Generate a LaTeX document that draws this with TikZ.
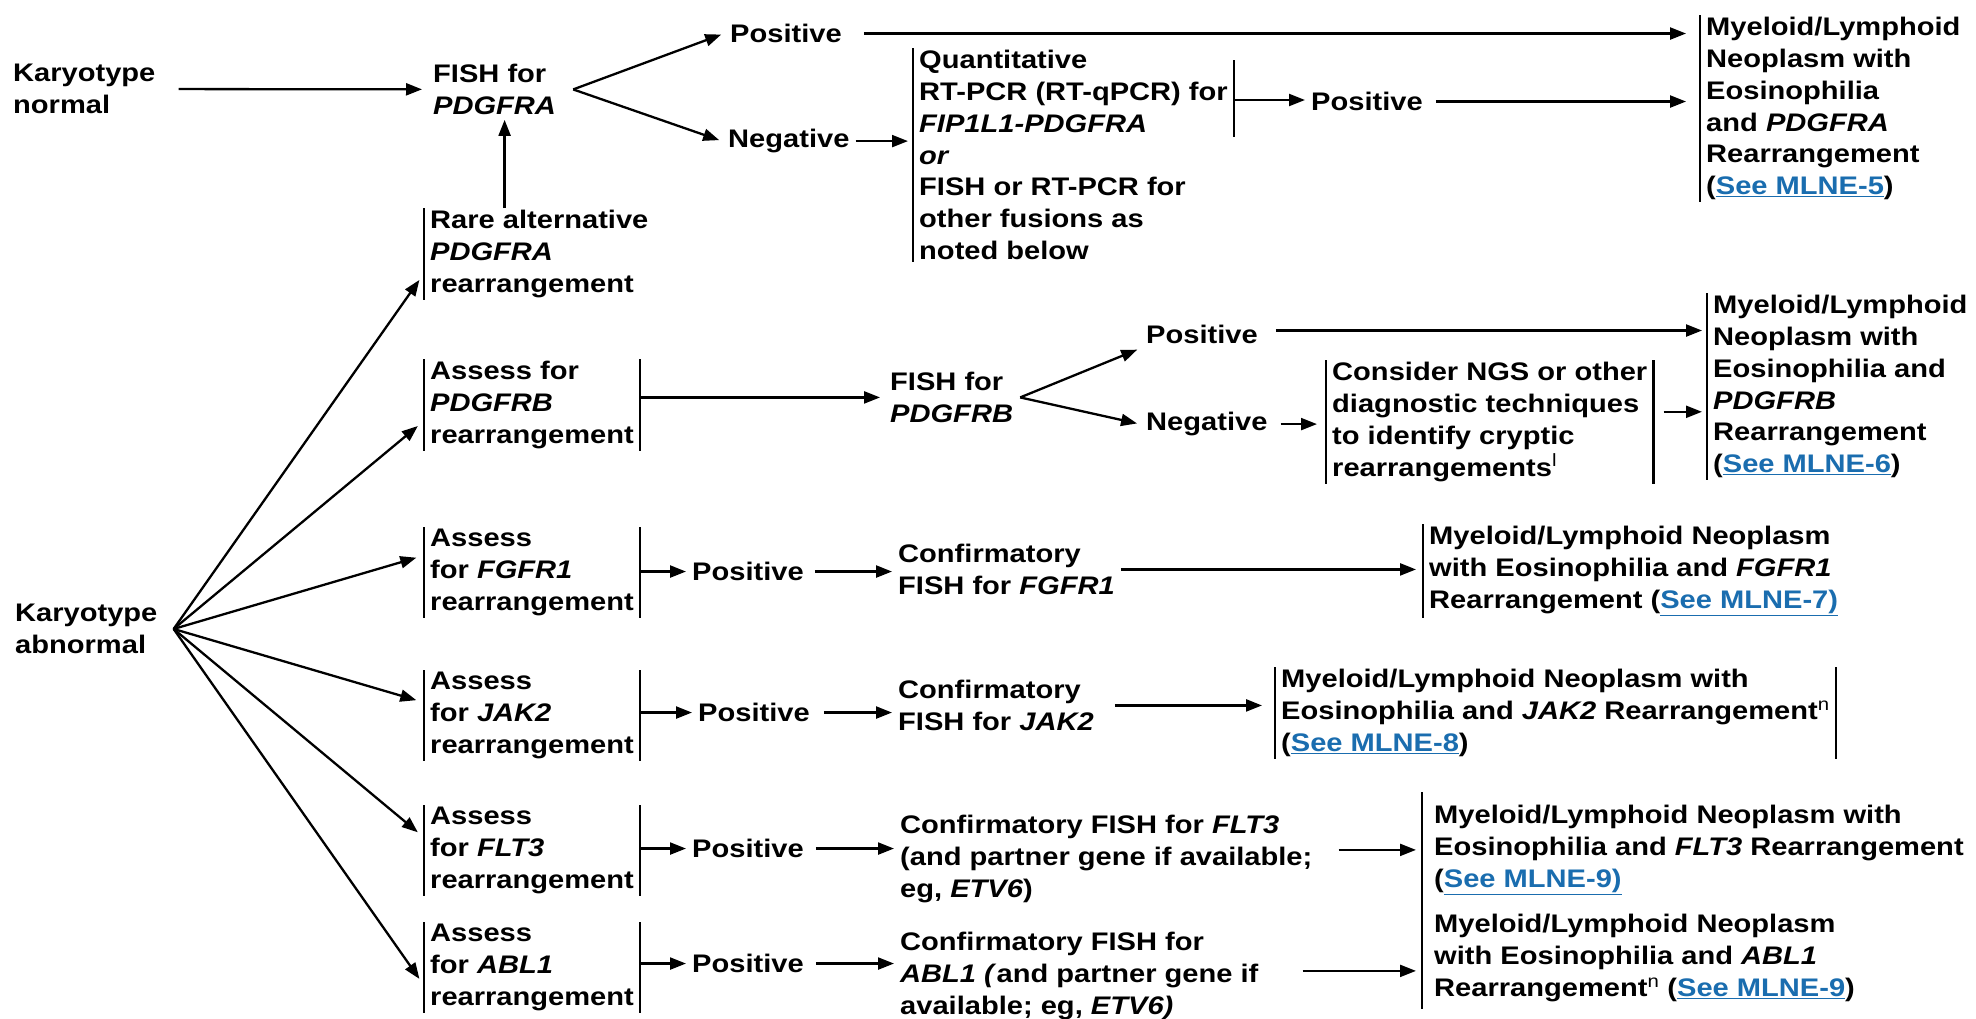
\documentclass[tikz,border=0pt]{standalone}
\usepackage{fontspec}
\setmainfont{Liberation Sans}[FakeStretch=1.145]
\usepackage{xcolor}
\usepackage{tikz}
\usetikzlibrary{arrows.meta, calc}
\definecolor{linkazul}{HTML}{1A6DAF}
\newcommand{\mlne}[1]{\textcolor{linkazul}{\underline{#1}}}

\begin{document}
\begin{tikzpicture}[x=1pt, y=-1pt,
    txt/.style={anchor=north west, align=left, inner xsep=6pt, inner ysep=2pt, font=\bfseries\fontsize{25.4}{31.8}\selectfont},
    res/.style={txt, inner xsep=12pt},
    seta/.style={draw, line width=2.3pt, -{Triangle[length=16pt, width=12pt]}},
    barra/.style={draw, line width=2.3pt, -}
]
    \path[use as bounding box, fill=white] (0,0) rectangle (1976,1018);

    \node[txt] (knorm) at (7, 62)    {Karyotype\\normal};
    \node[txt] (fishA) at (427, 62)  {FISH for\\\textit{PDGFRA}};
    \node[txt] (posA)  at (724, 22)  {Positive};
    \node[txt] (negA)  at (722, 127) {Negative};
    \node[txt] (qpcr)  at (913, 48)  {Quantitative\\RT-PCR (RT-qPCR) for\\\textit{FIP1L1-PDGFRA}\\\textit{or}\\FISH or RT-PCR for\\other fusions as\\noted below};
    \node[txt] (posA2) at (1305, 90) {Positive};
    \node[txt] (resA)  at (1700, 15) {Myeloid/Lymphoid\\Neoplasm with\\Eosinophilia\\and \textit{PDGFRA}\\Rearrangement\\(\mlne{See MLNE-5})};
    \node[txt] (rare)  at (424, 208) {Rare alternative\\\textit{PDGFRA}\\rearrangement};

    \node[txt] (kabn)  at (9, 602)   {Karyotype\\abnormal};

    \node[txt] (asB)   at (424, 359)  {Assess for\\\textit{PDGFRB}\\rearrangement};
    \node[txt] (fishB) at (884, 370)  {FISH for\\\textit{PDGFRB}};
    \node[txt] (posB)  at (1140, 323) {Positive};
    \node[txt] (negB)  at (1140, 410) {Negative};
    \node[txt] (ngs)   at (1326, 360) {Consider NGS or other\\diagnostic techniques\\to identify cryptic\\rearrangements\textsuperscript{\mdseries l}};
    \node[txt] (resB)  at (1707, 293) {Myeloid/Lymphoid\\Neoplasm with\\Eosinophilia and\\\textit{PDGFRB}\\Rearrangement\\(\mlne{See MLNE-6})};

    \node[txt] (asF)   at (424, 527)  {Assess\\for \textit{FGFR1}\\rearrangement};
    \node[txt] (posF)  at (686, 560)  {Positive};
    \node[txt] (confF) at (892, 542)  {Confirmatory\\FISH for \textit{FGFR1}};
    \node[txt] (resF)  at (1423, 524) {Myeloid/Lymphoid Neoplasm\\with Eosinophilia and \textit{FGFR1}\\Rearrangement (\mlne{See MLNE-7)}};

    \node[txt] (asJ)   at (424, 670)  {Assess\\for \textit{JAK2}\\rearrangement};
    \node[txt] (posJ)  at (692, 701)  {Positive};
    \node[txt] (confJ) at (892, 678)  {Confirmatory\\FISH for \textit{JAK2}};
    \node[txt] (resJ)  at (1275, 667) {Myeloid/Lymphoid Neoplasm with\\Eosinophilia and \textit{JAK2} Rearrangement\textsuperscript{\mdseries n}\\(\mlne{See MLNE-8})};

    \node[txt] (asL)   at (424, 805)  {Assess\\for \textit{FLT3}\\rearrangement};
    \node[txt] (posL)  at (686, 837)  {Positive};
    \node[txt] (confL) at (894, 813)  {Confirmatory FISH for \textit{FLT3}\\(and partner gene if available;\\eg, \textit{ETV6})};
    \node[res] (resL)  at (1422, 803) {Myeloid/Lymphoid Neoplasm with\\Eosinophilia and \textit{FLT3} Rearrangement\\(\mlne{See MLNE-9)}};

    \node[txt] (asA)   at (424, 922)  {Assess\\for \textit{ABL1}\\rearrangement};
    \node[txt] (posA3) at (686, 952)  {Positive};
    \node[txt] (confA) at (894, 930)  {Confirmatory FISH for\\\textit{ABL1 (}and partner gene if\\available; eg, \textit{ETV6)}};
    \node[res] (resAb) at (1422, 912) {Myeloid/Lymphoid Neoplasm\\with Eosinophilia and \textit{ABL1}\\Rearrangement\textsuperscript{\mdseries n} (\mlne{See MLNE-9})};

    \foreach \n in {rare,qpcr,resA,asB,ngs,resB,asF,resF,asJ,resJ,asL,asA}
        \draw[barra] (\n.north west) -- (\n.south west);
    \foreach \n in {asB,ngs,asF,asJ,resJ,asL,asA}
        \draw[barra] (\n.north east) -- (\n.south east);
    \draw[barra] ([yshift=-12pt]qpcr.north east) -- ++(0,77);
    \draw[barra] ([yshift=11pt]resL.north west) -- ([yshift=-5pt]resAb.south west);

    \coordinate (brA) at ([xshift=11pt]fishA.east);
    \coordinate (brB) at ([xshift=1pt]fishB.east);
    \coordinate (leque) at ([xshift=10pt]kabn.east);
    \coordinate (qsai) at ([yshift=-52pt]qpcr.north east);

    \draw[seta, shorten <=17pt, shorten >=5pt] (knorm) -- (fishA);
    \draw[seta, shorten >=3pt] (brA) -- (posA.west);
    \draw[seta, shorten >=3pt] (brA) -- (negA.west);
    \draw[seta, shorten <=16pt, shorten >=14pt] (posA.east) -- (posA.east -| resA.west);
    \draw[seta, shorten >=5pt] (negA.east) -- (negA.east -| qpcr.west);
    \draw[seta] (qsai) -- (qsai -| posA2.west);
    \draw[seta, shorten <=7pt, shorten >=14pt] (posA2.east) -- (posA2.east -| resA.west);
    \draw[seta, shorten >=3pt] ([xshift=10pt]fishA.south |- rare.north) -- ([xshift=10pt]fishA.south);

    \foreach \b/\d in {rare/-19.5, asB/-16, asF/17, asJ/13, asL/13, asA/-18}
        \draw[seta, shorten >=8pt] (leque) -- ([yshift=\d pt]\b.west);

    \draw[seta, shorten >=4pt] (asB.east |- fishB.west) -- (fishB.west);
    \draw[seta, shorten >=3pt] (brB) -- ([yshift=-14pt]posB.west);
    \draw[seta, shorten >=3pt] (brB) -- (negB.west);
    \draw[seta, shorten <=12pt, shorten >=5pt] ([yshift=4pt]posB.east) -- ([yshift=4pt]posB.east -| resB.west);
    \draw[seta, shorten <=7pt, shorten >=9pt] (negB.east) -- (negB.east -| ngs.west);
    \draw[seta, shorten <=10pt, shorten >=5pt] ([yshift=10pt]ngs.east) -- ([yshift=10pt]ngs.east -| resB.west);

    \draw[seta] (asF.east |- posF.west) -- (posF.west);
    \draw[seta, shorten <=5pt] (posF.east) -- (posF.east -| confF.west);
    \draw[seta, shorten >=7pt] (confF.east) -- (confF.east -| resF.west);

    \draw[seta] (asJ.east |- posJ.west) -- (posJ.west);
    \draw[seta, shorten <=8pt] (posJ.east) -- (posJ.east -| confJ.west);
    \draw[seta, shorten <=15pt, shorten >=13pt] (confJ.east) -- (confJ.east -| resJ.west);

    \draw[seta] (asL.east |- posL.west) -- (posL.west);
    \draw[seta, shorten <=6pt] (posL.east) -- (posL.east -| confL.west);
    \draw[seta, shorten <=20pt, shorten >=6pt] ([yshift=9pt]confL.east) -- ([yshift=9pt]confL.east -| resL.west);

    \draw[seta] (asA.east |- posA3.west) -- (posA3.west);
    \draw[seta, shorten <=6pt] (posA3.east) -- (posA3.east -| confA.west);
    \draw[seta, shorten <=38pt, shorten >=6pt] ([yshift=5pt]confA.east) -- ([yshift=5pt]confA.east -| resAb.west);
\end{tikzpicture}
\end{document}
